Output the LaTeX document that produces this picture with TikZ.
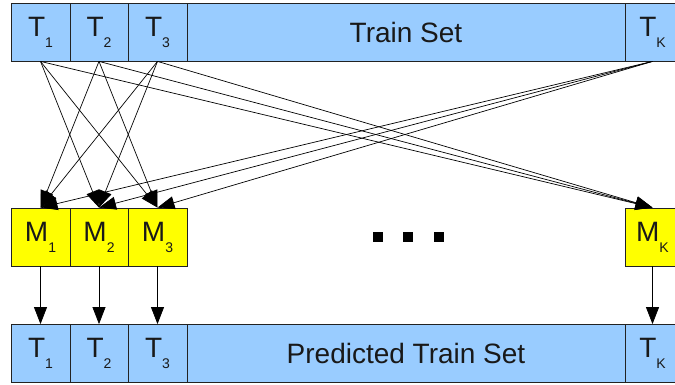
\documentclass[tikz,border=0pt]{standalone}
\usepackage{fontspec}
\setmainfont{Liberation Sans}
\usetikzlibrary{arrows.meta}
\definecolor{cellblue}{HTML}{99CCFF}
\definecolor{cellyellow}{HTML}{FFFF00}
\definecolor{edge}{HTML}{222222}
\newcommand\subx[1]{\raisebox{-11pt}{\fontsize{14}{14}\selectfont #1}}
\begin{document}
\begin{tikzpicture}[x=1pt,y=-1pt,
  cell/.style={draw=edge, line width=0.8pt, inner sep=0pt, minimum height=58pt,
    font=\fontsize{28}{32}\selectfont, text=black!90},
  tcell/.style={cell, fill=cellblue},
  mcell/.style={cell, fill=cellyellow},
  arr/.style={line width=0.7pt, -{Triangle[length=17pt,width=13pt]}},
  dotsq/.style={fill=black, minimum size=10pt, inner sep=0pt}]
\useasboundingbox (0,0) rectangle (675,385);
% top bar
\node[tcell, minimum width=59pt] (t1) at (40.5,32) {T\subx{1}};
\node[tcell, minimum width=58pt] (t2) at (99,32) {T\subx{2}};
\node[tcell, minimum width=59pt] (t3) at (157.5,32) {T\subx{3}};
\node[tcell, minimum width=438pt] (ts) at (406,32) {Train Set};
\node[tcell, minimum width=55pt] (tk) at (652.5,32) {T\subx{K}};
% models
\node[mcell, minimum width=59pt] (m1) at (40.5,237) {M\subx{1}};
\node[mcell, minimum width=58pt] (m2) at (99,237) {M\subx{2}};
\node[mcell, minimum width=59pt] (m3) at (157.5,237) {M\subx{3}};
\node[mcell, minimum width=55pt] (mk) at (652.5,237) {M\subx{K}};
% dots
\node[dotsq] (d1) at (378,237) {};
\node[dotsq] (d2) at (408,237) {};
\node[dotsq] (d3) at (439,237) {};
% bottom bar
\node[tcell, minimum width=59pt] (p1) at (40.5,353.5) {T\subx{1}};
\node[tcell, minimum width=58pt] (p2) at (99,353.5) {T\subx{2}};
\node[tcell, minimum width=59pt] (p3) at (157.5,353.5) {T\subx{3}};
\node[tcell, minimum width=438pt] (ps) at (406,353.5) {Predicted Train Set};
\node[tcell, minimum width=55pt] (pk) at (652.5,353.5) {T\subx{K}};
% arrows: each fold's model gets all other folds
\foreach \t/\m in {t1/m2,t1/m3,t1/mk,t2/m1,t2/m3,t2/mk,t3/m1,t3/m2,t3/mk,tk/m1,tk/m2,tk/m3}{
  \draw[arr] (\t.south) -- (\m.north);
}
\draw[arr] (m1.south) -- (p1.north);
\draw[arr] (m2.south) -- (p2.north);
\draw[arr] (m3.south) -- (p3.north);
\draw[arr] (mk.south) -- (pk.north);
\end{tikzpicture}
\end{document}
